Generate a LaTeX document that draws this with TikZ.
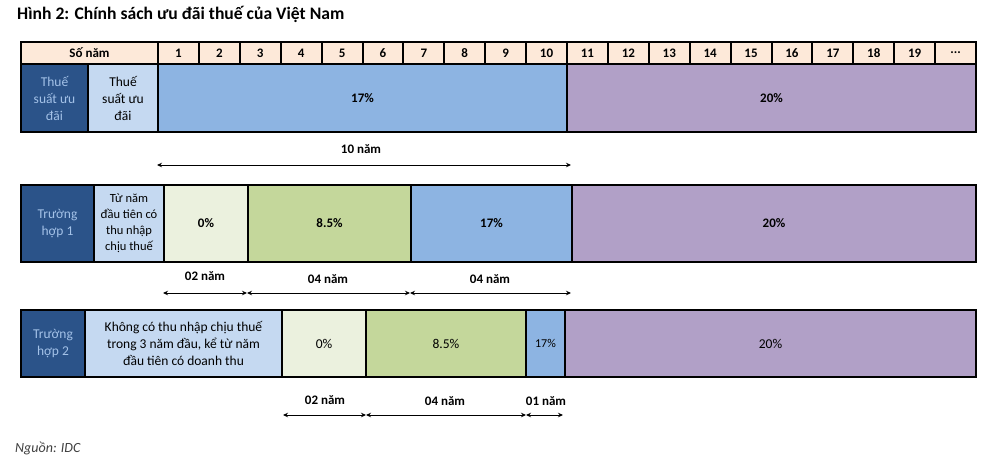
\documentclass[tikz,border=0pt]{standalone}
\usepackage{fontspec}
\setmainfont{Carlito}
\usetikzlibrary{arrows.meta,positioning,calc}

\definecolor{darkblue}{HTML}{2B5389}
\definecolor{paleblue}{HTML}{C5D9F1}
\definecolor{midblue}{HTML}{8DB4E2}
\definecolor{lilac}{HTML}{B1A0C7}
\definecolor{cream}{HTML}{EBF1DE}
\definecolor{lime}{HTML}{C4D79B}
\definecolor{peach}{HTML}{FDE9D9}
\definecolor{softtext}{HTML}{A4C2E8}

\begin{document}
\begin{tikzpicture}[
  x=1pt, y=-1pt,
  >={Stealth[length=5pt,width=4.5pt]},
  every node/.style={font=\fontsize{13.5}{17}\selectfont},
  bold/.style={font=\fontsize{13}{16}\selectfont\bfseries},
  cell/.style={draw, line width=2pt, anchor=north west, inner sep=0pt, align=center},
  span/.style={<->, line width=1pt},
]
\useasboundingbox (0,0) rectangle (1000,458);

% Title
\node[anchor=west, inner sep=0pt, font=\fontsize{17.6}{20}\selectfont\bfseries] (title) at (17,14)
  {Hình 2: Chính sách ưu đãi thuế của Việt Nam};

% Header row
\node[cell, bold, fill=peach, minimum width=137, minimum height=22] (hdr) at (20,41) {Số năm};
\foreach \i in {1,...,19}
  \node[cell, bold, fill=peach, minimum width=40.9, minimum height=22]
    (yr\i) at ({157+(\i-1)*40.9},41) {\i};
\node[cell, bold, fill=peach, minimum width=41, minimum height=22] (yrdots) at (934,41) {...};

% Preferential rates
\node[cell, fill=darkblue, text=softtext, minimum width=67, minimum height=68]
  (rate) at (20,63) {Thuế\\suất ưu\\đãi};
\node[cell, fill=paleblue, minimum width=70, minimum height=68]
  (rate2) at (87,63) {Thuế\\suất ưu\\đãi};
\node[cell, bold, fill=midblue, minimum width=409, minimum height=68] (top17) at (157,63) {17\%};
\node[cell, bold, fill=lilac, minimum width=409, minimum height=68] (top20) at (566,63) {20\%};

% 10 years
\coordinate (tenL) at (157,165);
\coordinate (tenR) at (571,165);
\draw[span] (tenL) -- (tenR);
\node[bold] (ten) at (361,149) {10 năm};

% Case 1
\node[cell, fill=darkblue, text=softtext, minimum width=73, minimum height=77]
  (caseA) at (20,184) {Trường\\hợp 1};
\node[cell, fill=paleblue, minimum width=70, minimum height=77,
      font=\fontsize{12.5}{16}\selectfont] (caseAnote) at (93,184)
  {Từ năm\\đầu tiên có\\thu nhập\\chịu thuế};
\node[cell, bold, fill=cream, minimum width=84, minimum height=77] (zeroA) at (163,184) {0\%};
\node[cell, bold, fill=lime, minimum width=163, minimum height=77] (halfA) at (247,184) {8.5\%};
\node[cell, bold, fill=midblue, minimum width=161, minimum height=77] (midA) at (410,184) {17\%};
\node[cell, bold, fill=lilac, minimum width=404, minimum height=77] (fullA) at (571,184) {20\%};

\coordinate (a0) at (163,293);
\coordinate (a1) at (247,293);
\coordinate (a2) at (410,293);
\coordinate (a3) at (571,293);
\draw[span] (a0) -- (a1);
\draw[span] (a1) -- (a2);
\draw[span] (a2) -- (a3);
\node[bold] (spanA1) at (205,276) {02 năm};
\node[bold] (spanA2) at (328,279) {04 năm};
\node[bold] (spanA3) at (490,279) {04 năm};

% Case 2
\node[cell, fill=darkblue, text=softtext, minimum width=64, minimum height=67]
  (caseB) at (20,309) {Trường\\hợp 2};
\node[cell, fill=paleblue, minimum width=197, minimum height=67] (caseBnote) at (84,309)
  {Không có thu nhập chịu thuế\\trong 3 năm đầu, kể từ năm\\đầu tiên có doanh thu};
\node[cell, fill=cream, minimum width=84, minimum height=67] (zeroB) at (281,309) {0\%};
\node[cell, fill=lime, minimum width=160, minimum height=67] (halfB) at (365,309) {8.5\%};
\node[cell, fill=midblue, minimum width=39, minimum height=67,
      font=\fontsize{12}{14}\selectfont] (midB) at (525,309) {17\%};
\node[cell, fill=lilac, minimum width=411, minimum height=67] (fullB) at (564,309) {20\%};

\coordinate (b0) at (283,415);
\coordinate (b1) at (366,415);
\coordinate (b2) at (526,415);
\coordinate (b3) at (563,415);
\draw[span] (b0) -- (b1);
\draw[span] (b1) -- (b2);
\draw[span] (b2) -- (b3);
\node[bold] (spanB1) at (325,400) {02 năm};
\node[bold] (spanB2) at (445,401) {04 năm};
\node[bold] (spanB3) at (546,401) {01 năm};

% Source
\node[anchor=west, inner sep=0pt, font=\fontsize{14}{16}\selectfont\itshape, text=black!75]
  (src) at (15,448) {Nguồn: IDC};
\end{tikzpicture}
\end{document}
